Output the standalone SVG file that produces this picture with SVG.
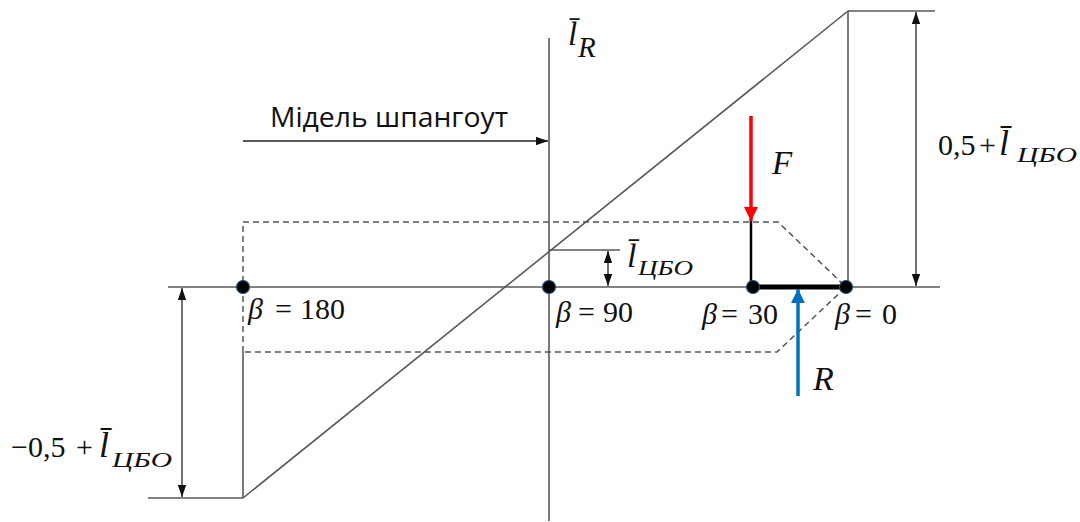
<svg xmlns="http://www.w3.org/2000/svg" width="1080" height="522" viewBox="0 0 1080 522">
<defs>
<marker id="ah" viewBox="0 0 10 10" refX="10" refY="5" markerWidth="12" markerHeight="12" markerUnits="userSpaceOnUse" orient="auto-start-reverse"><path d="M0,1.5 L10,5 L0,8.5 z" fill="#111"/></marker>
<marker id="ar" viewBox="0 0 10 10" refX="10" refY="5" markerWidth="14" markerHeight="14" markerUnits="userSpaceOnUse" orient="auto"><path d="M0,0 L10,5 L0,10 z" fill="#ff0000"/></marker>
<marker id="ab" viewBox="0 0 10 10" refX="10" refY="5" markerWidth="14" markerHeight="14" markerUnits="userSpaceOnUse" orient="auto"><path d="M0,0 L10,5 L0,10 z" fill="#0070c0"/></marker>
</defs>
<g id="connectors" fill="none">
<g stroke="#595959" stroke-width="1.6">
<line x1="168" y1="287" x2="940" y2="287"/>
<line x1="549" y1="38" x2="549" y2="521"/>
<line x1="243" y1="498" x2="848" y2="11"/>
<line x1="848" y1="11" x2="848" y2="287"/>
<line x1="848" y1="11" x2="935" y2="11"/>
<line x1="148" y1="498" x2="243" y2="498"/>
<line x1="243" y1="352" x2="243" y2="498"/>
<line x1="549" y1="250" x2="620" y2="250"/>
</g>
<path d="M243,352 L243,222 L778,222 L846,287 L777,352 L243,352" stroke="#555" stroke-width="1.5" stroke-dasharray="6,4"/>
<g stroke="#222" stroke-width="1.3">
<line x1="916" y1="12" x2="916" y2="286" marker-start="url(#ah)" marker-end="url(#ah)"/>
<line x1="182" y1="288" x2="182" y2="497" marker-start="url(#ah)" marker-end="url(#ah)"/>
<line x1="608" y1="251" x2="608" y2="286" marker-start="url(#ah)" marker-end="url(#ah)"/>
<line x1="243" y1="141" x2="548" y2="141" marker-end="url(#ah)"/>
</g>
<line x1="751" y1="221" x2="751" y2="287" stroke="#000" stroke-width="2.5"/>
<line x1="752" y1="287" x2="846" y2="287" stroke="#000" stroke-width="5"/>
<line x1="751" y1="116" x2="751" y2="221" stroke="#ff0000" stroke-width="3.5" marker-end="url(#ar)"/>
<line x1="798" y1="396" x2="798" y2="289" stroke="#0070c0" stroke-width="3.5" marker-end="url(#ab)"/>
</g>
<g id="points" fill="#000" stroke="#1f4e79" stroke-width="1.2">
<circle cx="243" cy="287" r="6.5"/>
<circle cx="549" cy="287" r="6.5"/>
<circle cx="753" cy="287" r="6.5"/>
<circle cx="846" cy="287" r="6.5"/>
</g>
<g id="labels" fill="#111">
<text x="568" y="45" style="font-family:'Liberation Serif',serif;font-size:33px;font-style:italic">l̄<tspan x="578" y="57" style="font-family:'Liberation Serif',serif;font-size:29px;font-style:italic">R</tspan></text>
<text x="270" y="127" style="font-family:'Open Sans','Liberation Sans',sans-serif;font-size:27px" textLength="238" lengthAdjust="spacingAndGlyphs">Мідель шпангоут</text>
<text x="772" y="174" style="font-family:'Liberation Serif',serif;font-size:33px;font-style:italic">F</text>
<text x="813" y="390" style="font-family:'Liberation Serif',serif;font-size:34px;font-style:italic">R</text>
<text x="627" y="267" style="font-family:'Liberation Serif',serif;font-size:34px;font-style:italic">l̄<tspan x="638" y="275" textLength="55" lengthAdjust="spacingAndGlyphs" style="font-family:'Liberation Serif',serif;font-size:22px;font-style:italic">ЦБО</tspan></text>
<text x="248" y="319" style="font-family:'Liberation Serif',serif;font-size:30px"><tspan style="font-family:'Liberation Serif',serif;font-size:30px;font-style:italic">β</tspan><tspan x="275" style="font-family:'Liberation Serif',serif;font-size:30px">=</tspan><tspan x="300" style="font-family:'Liberation Serif',serif;font-size:30px">180</tspan></text>
<text x="556" y="322" style="font-family:'Liberation Serif',serif;font-size:30px"><tspan style="font-family:'Liberation Serif',serif;font-size:30px;font-style:italic">β</tspan><tspan x="578" style="font-family:'Liberation Serif',serif;font-size:30px">=</tspan><tspan x="603" style="font-family:'Liberation Serif',serif;font-size:30px">90</tspan></text>
<text x="702" y="324" style="font-family:'Liberation Serif',serif;font-size:30px"><tspan style="font-family:'Liberation Serif',serif;font-size:30px;font-style:italic">β</tspan><tspan x="721" style="font-family:'Liberation Serif',serif;font-size:30px">=</tspan><tspan x="748" style="font-family:'Liberation Serif',serif;font-size:30px">30</tspan></text>
<text x="835" y="324" style="font-family:'Liberation Serif',serif;font-size:30px"><tspan style="font-family:'Liberation Serif',serif;font-size:30px;font-style:italic">β</tspan><tspan x="855" style="font-family:'Liberation Serif',serif;font-size:30px">=</tspan><tspan x="882" style="font-family:'Liberation Serif',serif;font-size:30px">0</tspan></text>
<text x="938" y="155" style="font-family:'Liberation Serif',serif;font-size:30px">0,5<tspan x="979" style="font-family:'Liberation Serif',serif;font-size:30px">+</tspan><tspan x="999" style="font-family:'Liberation Serif',serif;font-size:36px;font-style:italic">l̄</tspan><tspan x="1017" y="162" textLength="60" lengthAdjust="spacingAndGlyphs" style="font-family:'Liberation Serif',serif;font-size:22px;font-style:italic">ЦБО</tspan></text>
<text x="11" y="457" style="font-family:'Liberation Serif',serif;font-size:30px">−0,5<tspan x="76" style="font-family:'Liberation Serif',serif;font-size:30px">+</tspan><tspan x="99" style="font-family:'Liberation Serif',serif;font-size:36px;font-style:italic">l̄</tspan><tspan x="112" y="467" textLength="60" lengthAdjust="spacingAndGlyphs" style="font-family:'Liberation Serif',serif;font-size:22px;font-style:italic">ЦБО</tspan></text>
</g>
</svg>
